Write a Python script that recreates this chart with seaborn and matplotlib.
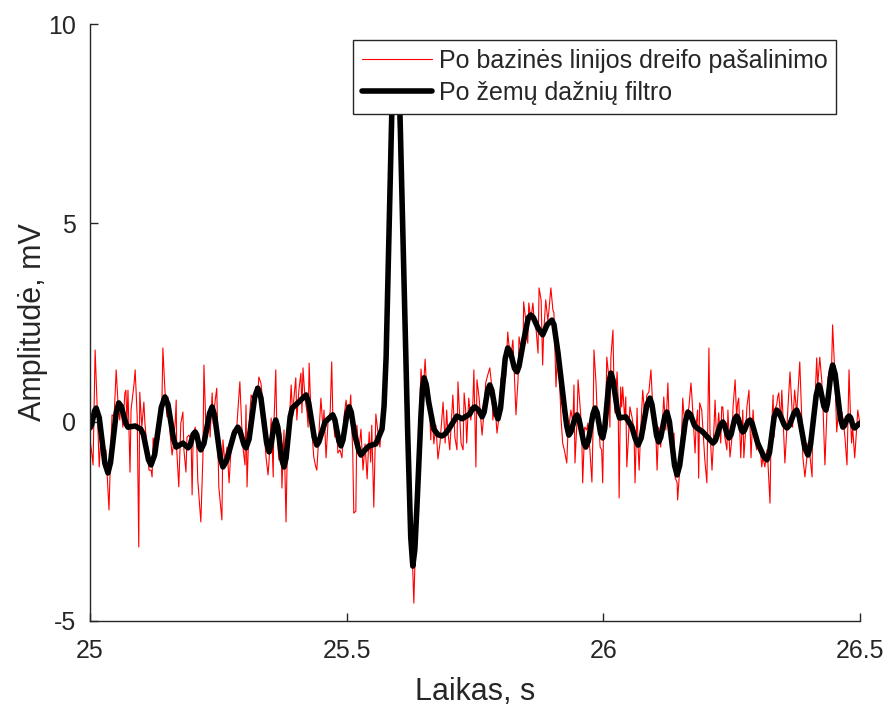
import numpy as np
import pandas as pd
import matplotlib
matplotlib.use("Agg")
import matplotlib.pyplot as plt
from matplotlib.lines import Line2D
import seaborn as sns

# ECG segment after baseline-drift removal (time in s, amplitude in mV)
red_t = [
    25.000, 25.004, 25.006, 25.010, 25.014, 25.018, 25.021, 25.025, 25.029, 25.031,
    25.037, 25.041, 25.043, 25.047, 25.051, 25.055, 25.058, 25.060, 25.064, 25.068,
    25.070, 25.072, 25.074, 25.078, 25.080, 25.086, 25.088, 25.092, 25.095, 25.097,
    25.101, 25.105, 25.107, 25.111, 25.115, 25.119, 25.121, 25.123, 25.129, 25.131,
    25.134, 25.140, 25.142, 25.146, 25.150, 25.152, 25.156, 25.160, 25.162, 25.166,
    25.168, 25.169, 25.173, 25.177, 25.181, 25.183, 25.187, 25.189, 25.193, 25.197,
    25.199, 25.201, 25.205, 25.208, 25.210, 25.216, 25.220, 25.222, 25.226, 25.228,
    25.232, 25.234, 25.238, 25.240, 25.244, 25.247, 25.249, 25.251, 25.257, 25.259,
    25.263, 25.267, 25.271, 25.275, 25.279, 25.282, 25.286, 25.292, 25.296, 25.298,
    25.302, 25.304, 25.306, 25.310, 25.314, 25.318, 25.319, 25.323, 25.327, 25.329,
    25.333, 25.337, 25.339, 25.343, 25.347, 25.349, 25.353, 25.357, 25.358, 25.362,
    25.364, 25.368, 25.372, 25.374, 25.378, 25.382, 25.384, 25.388, 25.392, 25.395,
    25.397, 25.401, 25.403, 25.407, 25.411, 25.413, 25.415, 25.419, 25.423, 25.425,
    25.427, 25.431, 25.434, 25.436, 25.440, 25.442, 25.446, 25.450, 25.454, 25.456,
    25.460, 25.464, 25.468, 25.471, 25.473, 25.477, 25.481, 25.483, 25.487, 25.491,
    25.495, 25.499, 25.501, 25.505, 25.508, 25.512, 25.514, 25.518, 25.520, 25.524,
    25.528, 25.532, 25.536, 25.540, 25.544, 25.547, 25.549, 25.553, 25.557, 25.561,
    25.565, 25.569, 25.575, 25.581, 25.586, 25.592, 25.596, 25.600, 25.604, 25.610,
    25.616, 25.621, 25.627, 25.631, 25.635, 25.639, 25.643, 25.645, 25.649, 25.653,
    25.657, 25.660, 25.664, 25.666, 25.670, 25.674, 25.678, 25.682, 25.688, 25.692,
    25.695, 25.697, 25.701, 25.707, 25.711, 25.715, 25.717, 25.723, 25.727, 25.729,
    25.732, 25.734, 25.738, 25.742, 25.746, 25.748, 25.752, 25.754, 25.758, 25.762,
    25.764, 25.768, 25.771, 25.775, 25.779, 25.783, 25.785, 25.789, 25.793, 25.797,
    25.801, 25.805, 25.807, 25.810, 25.814, 25.816, 25.820, 25.824, 25.826, 25.830,
    25.834, 25.836, 25.840, 25.844, 25.845, 25.849, 25.853, 25.855, 25.859, 25.863,
    25.865, 25.869, 25.873, 25.875, 25.879, 25.882, 25.884, 25.888, 25.892, 25.894,
    25.898, 25.902, 25.904, 25.908, 25.912, 25.914, 25.918, 25.921, 25.925, 25.929,
    25.931, 25.937, 25.941, 25.943, 25.945, 25.949, 25.951, 25.955, 25.958, 25.960,
    25.964, 25.968, 25.970, 25.974, 25.978, 25.980, 25.982, 25.986, 25.988, 25.992,
    25.994, 25.997, 25.999, 26.001, 26.005, 26.007, 26.011, 26.013, 26.015, 26.019,
    26.021, 26.023, 26.027, 26.029, 26.031, 26.034, 26.036, 26.038, 26.042, 26.044,
    26.046, 26.050, 26.052, 26.056, 26.060, 26.062, 26.066, 26.068, 26.070, 26.073,
    26.077, 26.079, 26.081, 26.085, 26.089, 26.093, 26.097, 26.099, 26.103, 26.105,
    26.108, 26.112, 26.116, 26.118, 26.122, 26.126, 26.128, 26.132, 26.136, 26.138,
    26.140, 26.144, 26.145, 26.149, 26.153, 26.155, 26.157, 26.161, 26.163, 26.167,
    26.171, 26.173, 26.175, 26.179, 26.181, 26.184, 26.186, 26.188, 26.192, 26.194,
    26.198, 26.202, 26.206, 26.208, 26.212, 26.214, 26.218, 26.220, 26.221, 26.225,
    26.229, 26.231, 26.233, 26.237, 26.241, 26.243, 26.247, 26.251, 26.253, 26.257,
    26.260, 26.262, 26.264, 26.268, 26.272, 26.274, 26.278, 26.280, 26.284, 26.288,
    26.292, 26.295, 26.299, 26.301, 26.305, 26.309, 26.311, 26.315, 26.319, 26.321,
    26.325, 26.327, 26.331, 26.333, 26.334, 26.338, 26.340, 26.342, 26.346, 26.348,
    26.350, 26.354, 26.358, 26.360, 26.364, 26.368, 26.369, 26.373, 26.377, 26.379,
    26.383, 26.387, 26.389, 26.393, 26.397, 26.399, 26.403, 26.407, 26.408, 26.412,
    26.416, 26.418, 26.422, 26.426, 26.428, 26.432, 26.436, 26.438, 26.442, 26.445,
    26.447, 26.451, 26.455, 26.457, 26.461, 26.465, 26.467, 26.471, 26.475, 26.479,
    26.482, 26.484, 26.486, 26.490, 26.494, 26.496, 26.500,
]
red_v = [
    -0.45, -0.83, -1.08, 1.81, 0.38, -1.13, -0.38, -0.70, -0.78, -0.70,
    -2.21, -0.45, 0.18, 0.13, 1.31, 0.38, 0.05, 0.48, -0.13, 0.73,
    0.80, -0.03, 0.80, -1.26, 0.30, 0.98, 1.31, 0.13, -3.14, 0.75,
    -0.13, 0.50, -0.03, -0.63, -1.21, -1.21, -1.38, -0.40, -0.88, -0.08,
    -0.45, 0.38, 1.86, 0.80, 0.13, 0.63, -0.28, -0.83, -0.63, 0.00,
    0.55, -0.70, -1.63, -0.03, 0.25, -0.70, -1.26, -0.38, -0.33, -0.45,
    -1.83, -0.38, -0.13, -0.53, -1.46, -2.51, -0.88, 1.43, -0.20, -0.38,
    0.30, -0.38, 0.73, -0.03, 0.55, 0.85, -0.45, -1.63, -2.46, -0.45,
    -1.03, -0.63, -1.53, -0.63, -0.20, -0.28, -0.13, 1.01, -0.20, -0.63,
    -1.08, 0.43, -1.63, -0.03, 0.68, 0.55, 0.38, 0.88, 0.73, 1.13,
    0.98, 0.48, -0.20, -0.88, -1.33, -0.95, 0.10, -1.38, -0.20, 1.31,
    -0.13, -0.95, -0.28, -1.66, -0.20, -2.51, -1.03, -0.08, 0.93, 0.13,
    0.55, 1.11, 0.05, 0.80, 1.23, 0.23, 1.36, 0.60, 0.23, -0.13,
    1.48, 0.05, -0.53, -0.88, -1.13, -1.21, -0.28, 0.60, -0.20, 0.30,
    -0.90, 0.05, 0.25, 1.51, 0.23, -0.38, -0.20, -0.78, -0.70, -0.90,
    0.13, 0.55, 0.30, 0.13, 0.68, -0.78, -2.29, -2.24, -0.08, -0.73,
    -0.18, -1.21, -0.55, -1.43, -0.25, -1.01, -0.08, -2.14, 0.20, -0.25,
    -0.63, 0.20, 1.31, 4.07, 7.09, 8.72, 8.84, 7.84, 6.33, 3.44,
    0.68, -1.46, -2.96, -4.55, -2.71, -1.21, 0.55, 1.33, 0.68, 1.58,
    0.58, 0.88, -0.45, 0.30, -0.55, -0.08, -0.93, -0.53, 0.50, -0.53,
    0.30, -0.20, -0.70, 0.68, -0.38, -0.70, 1.01, -0.53, -0.70, 0.73,
    0.30, -0.53, 0.60, 0.05, 0.48, 1.31, -1.13, 1.06, 0.63, -0.03,
    -0.33, 0.30, 0.98, 1.18, 1.36, 0.88, 0.05, 0.48, -0.28, 0.13,
    1.11, 0.85, 1.61, 1.13, 2.26, 1.98, 1.63, 2.06, 1.48, 0.18,
    1.06, 2.14, 1.81, 2.06, 3.02, 2.56, 1.98, 2.99, 2.56, 2.99,
    2.64, 2.36, 1.73, 3.37, 3.07, 1.43, 2.24, 3.07, 2.56, 2.76,
    3.37, 2.81, 2.74, 0.88, 2.06, 1.31, 0.05, -0.53, -0.75, -1.03,
    -0.38, 0.30, -0.03, 0.93, -1.03, 0.05, 1.06, 0.38, -0.20, -1.53,
    -0.13, -0.20, -0.03, -0.70, -1.51, -0.28, 1.81, 0.98, 0.30, -0.20,
    -0.63, -0.70, -1.53, 0.05, 0.30, 1.63, 1.13, -0.13, 1.63, 2.31,
    0.85, 0.23, 1.26, 0.63, -1.91, 0.88, 0.38, 0.88, 0.05, 0.63,
    -1.13, -0.20, 0.38, 0.13, -0.20, -1.53, 0.35, -0.63, -1.21, -0.20,
    0.80, 0.48, -0.20, 0.68, 0.75, 1.31, 0.25, -0.20, -0.45, -1.21,
    -0.13, -0.63, 0.13, 0.63, -0.20, 0.98, 0.23, -0.03, -0.70, -0.28,
    -1.38, -1.53, -1.96, -1.21, -0.20, 0.60, 0.23, -0.20, 0.13, 0.38,
    0.98, 0.60, 0.13, -0.78, -0.08, 0.30, -1.41, 0.48, 0.30, -0.13,
    -0.95, -1.53, 1.86, -0.20, -1.21, -0.70, 0.55, -0.13, -0.53, 0.23,
    -0.53, 0.38, 0.38, -0.38, -0.70, 0.30, -0.88, -0.38, 0.38, 1.06,
    0.13, 0.48, 0.60, -0.90, 0.30, -0.90, -0.13, 0.38, 0.80, -0.90,
    0.30, -0.38, -0.70, -0.45, -0.53, -1.13, -0.88, -1.13, -0.70, -1.03,
    -2.04, -0.45, 0.68, -0.38, 0.30, 0.43, 0.63, 0.73, 0.05, 0.80,
    0.23, -1.03, -0.13, 0.38, 1.26, 0.30, -0.13, 0.80, 0.23, 0.63,
    1.51, 0.05, -0.88, -1.38, -0.88, -0.53, -0.88, -1.38, -0.03, 0.30,
    1.61, 0.93, 1.63, 1.01, 0.48, -1.08, 0.30, 1.13, 0.73, 1.38,
    2.44, 1.31, -0.25, 0.05, 0.30, 0.25, 0.10, -0.38, -1.08, 1.31,
    0.05, -0.53, -0.13, -0.90, -0.13, 0.30, -0.03,
]

# Same segment after the low-pass filter
blk_t = [
    25.000, 25.003, 25.009, 25.012, 25.018, 25.029, 25.035, 25.040, 25.051, 25.056,
    25.061, 25.070, 25.074, 25.088, 25.099, 25.104, 25.114, 25.119, 25.126, 25.139,
    25.146, 25.152, 25.163, 25.168, 25.181, 25.191, 25.195, 25.201, 25.205, 25.208,
    25.213, 25.216, 25.222, 25.233, 25.238, 25.243, 25.254, 25.259, 25.266, 25.281,
    25.288, 25.292, 25.300, 25.304, 25.310, 25.321, 25.327, 25.333, 25.344, 25.349,
    25.352, 25.359, 25.362, 25.366, 25.374, 25.378, 25.382, 25.390, 25.394, 25.405,
    25.421, 25.426, 25.437, 25.442, 25.446, 25.458, 25.473, 25.477, 25.485, 25.489,
    25.493, 25.501, 25.505, 25.509, 25.516, 25.524, 25.528, 25.536, 25.544, 25.557,
    25.569, 25.573, 25.577, 25.582, 25.588, 25.591, 25.595, 25.599, 25.604, 25.612,
    25.619, 25.625, 25.629, 25.633, 25.637, 25.645, 25.648, 25.651, 25.655, 25.660,
    25.670, 25.678, 25.686, 25.692, 25.699, 25.715, 25.725, 25.740, 25.745, 25.750,
    25.757, 25.764, 25.768, 25.775, 25.779, 25.783, 25.791, 25.795, 25.800, 25.809,
    25.814, 25.819, 25.827, 25.832, 25.836, 25.844, 25.854, 25.859, 25.864, 25.873,
    25.882, 25.891, 25.900, 25.904, 25.912, 25.925, 25.929, 25.933, 25.937, 25.945,
    25.949, 25.953, 25.962, 25.966, 25.971, 25.980, 25.984, 25.988, 25.995, 25.999,
    26.003, 26.011, 26.015, 26.019, 26.028, 26.032, 26.044, 26.056, 26.062, 26.068,
    26.074, 26.085, 26.091, 26.095, 26.104, 26.108, 26.112, 26.120, 26.124, 26.129,
    26.139, 26.144, 26.149, 26.160, 26.165, 26.170, 26.178, 26.183, 26.194, 26.214,
    26.219, 26.228, 26.233, 26.236, 26.242, 26.245, 26.249, 26.256, 26.260, 26.263,
    26.269, 26.272, 26.275, 26.282, 26.286, 26.290, 26.301, 26.313, 26.319, 26.324,
    26.333, 26.338, 26.343, 26.353, 26.358, 26.363, 26.372, 26.377, 26.382, 26.393,
    26.399, 26.404, 26.415, 26.420, 26.423, 26.430, 26.434, 26.437, 26.444, 26.447,
    26.452, 26.462, 26.467, 26.470, 26.476, 26.479, 26.482, 26.487, 26.490, 26.500,
]
blk_v = [
    -0.15, -0.08, 0.28, 0.35, 0.11, -1.04, -1.28, -1.02, 0.22, 0.48,
    0.39, -0.04, -0.13, -0.10, -0.18, -0.31, -0.95, -1.08, -0.82, 0.37,
    0.63, 0.44, -0.44, -0.63, -0.53, -0.65, -0.59, -0.31, -0.25, -0.32,
    -0.63, -0.70, -0.54, 0.22, 0.38, 0.15, -0.90, -1.13, -0.98, -0.28,
    -0.13, -0.21, -0.57, -0.65, -0.43, 0.63, 0.85, 0.61, -0.51, -0.75,
    -0.63, -0.07, 0.05, -0.13, -0.95, -1.13, -0.91, 0.13, 0.35, 0.48,
    0.68, 0.49, -0.39, -0.58, -0.50, 0.00, 0.18, 0.06, -0.48, -0.60,
    -0.45, 0.23, 0.38, 0.25, -0.33, -0.73, -0.83, -0.70, -0.60, -0.55,
    -0.18, 0.40, 1.63, 4.45, 7.74, 8.45, 8.80, 8.45, 7.74, 3.52,
    -0.25, -2.90, -3.62, -3.20, -2.14, 0.20, 0.85, 1.11, 0.95, 0.50,
    -0.18, -0.32, -0.35, -0.30, -0.18, 0.15, 0.08, 0.20, 0.33, 0.38,
    0.30, 0.13, 0.25, 0.81, 0.93, 0.80, 0.21, 0.08, 0.35, 1.59,
    1.86, 1.77, 1.35, 1.26, 1.40, 1.98, 2.62, 2.69, 2.62, 2.36,
    2.19, 2.45, 2.56, 2.45, 1.73, 0.30, -0.10, -0.33, -0.25, 0.10,
    0.18, 0.06, -0.51, -0.63, -0.48, 0.20, 0.35, 0.24, -0.29, -0.40,
    -0.16, 0.99, 1.23, 1.06, 0.27, 0.10, 0.13, -0.13, -0.40, -0.58,
    -0.40, 0.42, 0.60, 0.44, -0.34, -0.50, -0.39, 0.14, 0.25, 0.01,
    -1.09, -1.33, -1.09, 0.01, 0.25, 0.19, -0.09, -0.15, -0.25, -0.53,
    -0.45, -0.08, 0.00, -0.06, -0.34, -0.40, -0.32, 0.07, 0.15, 0.09,
    -0.19, -0.25, -0.21, 0.01, 0.05, -0.03, -0.53, -0.87, -0.95, -0.77,
    0.12, 0.30, 0.23, -0.08, -0.15, -0.08, 0.23, 0.30, 0.13, -0.66,
    -0.83, -0.57, 0.67, 0.93, 0.84, 0.39, 0.30, 0.47, 1.26, 1.43,
    1.20, 0.10, -0.13, -0.09, 0.11, 0.15, 0.11, -0.11, -0.15, -0.03,
]

x_ticks = [25, 25.5, 26, 26.5]
x_tick_labels = ["25", "25.5", "26", "26.5"]
y_ticks = [-5, 0, 5, 10]
y_tick_labels = ["-5", "0", "5", "10"]
label_red = "Po bazinės linijos dreifo pašalinimo"
label_blk = "Po žemų dažnių filtro"

sns.set_style("white")
plt.rcParams["font.family"] = ["Liberation Sans", "DejaVu Sans"]

df_red = pd.DataFrame({"t": red_t, "v": red_v})
df_blk = pd.DataFrame({"t": blk_t, "v": blk_v})

fig = plt.figure(figsize=(8.91, 7.06), dpi=100)
ax = fig.add_axes([0.101, 0.1204, 0.864, 0.8456])

sns.lineplot(data=df_red, x="t", y="v", ax=ax, color="#ff0000", linewidth=0.8,
             estimator=None, sort=False, legend=False)
sns.lineplot(data=df_blk, x="t", y="v", ax=ax, color="black", linewidth=4.0,
             estimator=None, sort=False, legend=False,
             solid_joinstyle="round", solid_capstyle="round")

ax.set_xlim(25, 26.5)
ax.set_ylim(-5, 10)
ax.set_xticks(x_ticks)
ax.set_xticklabels(x_tick_labels)
ax.set_yticks(y_ticks)
ax.set_yticklabels(y_tick_labels)

dark = "#262626"
for side in ("top", "right"):
    ax.spines[side].set_visible(False)
for side in ("left", "bottom"):
    ax.spines[side].set_color(dark)
    ax.spines[side].set_linewidth(1.0)
ax.tick_params(axis="both", direction="in", length=6, width=1.0, colors=dark,
               labelsize=18, left=True, bottom=True)
ax.tick_params(axis="x", pad=13)
ax.tick_params(axis="y", pad=10)

ax.set_xlabel("Laikas, s", fontsize=22, color=dark, labelpad=10)
ax.set_ylabel("Amplitudė, mV", fontsize=22, color=dark, labelpad=0)

handles = [Line2D([], [], color="#ff0000", linewidth=0.8),
           Line2D([], [], color="black", linewidth=4.0)]
leg = ax.legend(handles, [label_red, label_blk], loc="upper left",
                bbox_to_anchor=(0.342, 0.973), borderaxespad=0,
                fontsize=18, frameon=True, fancybox=False, framealpha=1,
                edgecolor=dark, handlelength=2.8, handletextpad=0.28,
                labelspacing=0.34, borderpad=0.34)
leg.get_frame().set_linewidth(1.0)
leg.set_zorder(5)

fig.savefig("out.png", dpi=100)
